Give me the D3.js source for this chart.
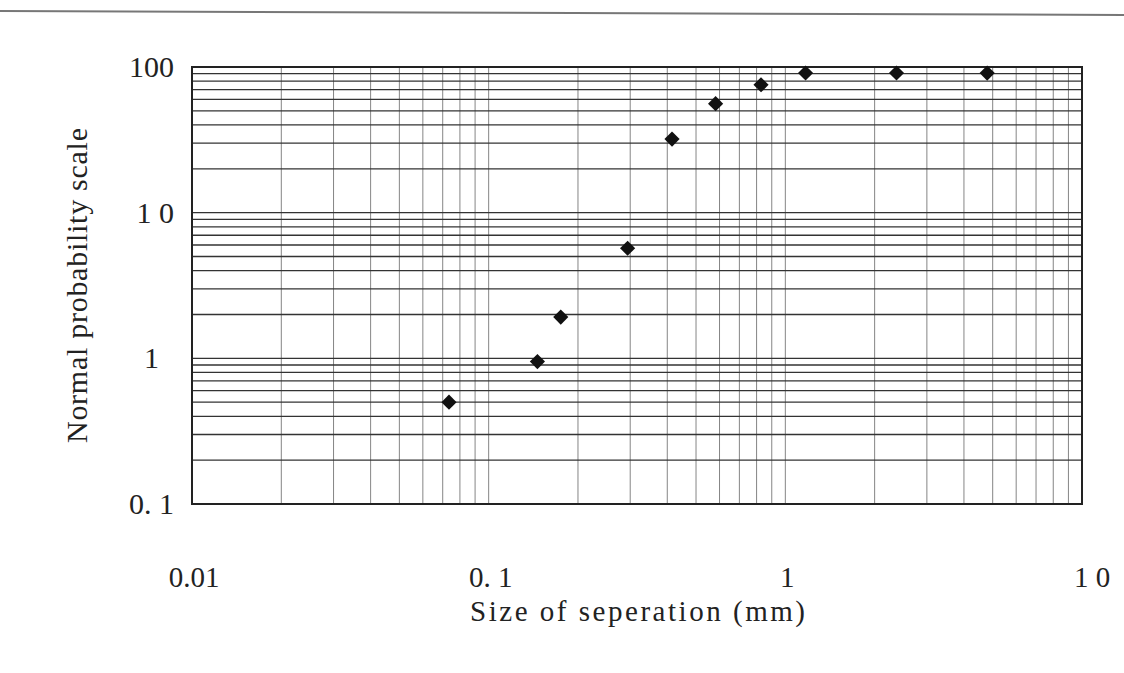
<!DOCTYPE html>
<html>
<head>
<meta charset="utf-8">
<script src="https://cdn.jsdelivr.net/npm/d3@7"></script>
<style>
  body { margin: 0; background: #fff; }
  svg text { font-family: "Liberation Serif", "Times New Roman", serif; fill: #222; }
</style>
</head>
<body>
<svg id="chart" width="1124" height="673"></svg>
<script>
// particle size (mm) vs cumulative percent
const sizes = [0.0735, 0.146, 0.175, 0.294, 0.415, 0.582, 0.828, 1.17, 2.37, 4.79];
const percents = [0.5, 0.95, 1.92, 5.7, 32, 56, 75.5, 91, 91, 90.8];
const xTickValues = [0.01, 0.1, 1, 10];
const xTickLabels = ['0.01', '0. 1', '1', '1 0'];
const yTickValues = [0.1, 1, 10, 100];
const yTickLabels = ['0. 1', '1  ', '1 0', '100'];

const svg = d3.select('#chart');
const plotLeft = 192;
const plotRight = 1082;
const plotTop = 67;
const plotBottom = 504;

const x = d3.scaleLog().domain([0.01, 10]).range([plotLeft, plotRight]);
const y = d3.scaleLog().domain([0.1, 100]).range([plotBottom, plotTop]);

// scan edge line at the top of the page
svg.append('line')
  .attr('x1', 0).attr('y1', 11).attr('x2', 1124).attr('y2', 15)
  .attr('stroke', '#777').attr('stroke-width', 2);

// vertical grid (lighter)
svg.append('g').selectAll('line')
  .data(x.ticks())
  .join('line')
  .attr('x1', (d) => x(d)).attr('x2', (d) => x(d))
  .attr('y1', plotTop).attr('y2', plotBottom)
  .attr('stroke', '#777')
  .attr('stroke-width', 0.9);

// horizontal grid (darker)
svg.append('g').selectAll('line')
  .data(y.ticks())
  .join('line')
  .attr('x1', plotLeft).attr('x2', plotRight)
  .attr('y1', (d) => y(d)).attr('y2', (d) => y(d))
  .attr('stroke', '#333')
  .attr('stroke-width', 1.3);

// plot frame
svg.append('rect')
  .attr('x', plotLeft).attr('y', plotTop)
  .attr('width', plotRight - plotLeft).attr('height', plotBottom - plotTop)
  .attr('fill', 'none')
  .attr('stroke', '#222')
  .attr('stroke-width', 2);

// y tick labels
svg.append('g').selectAll('text')
  .data(yTickValues)
  .join('text')
  .attr('x', 174)
  .attr('y', (d) => y(d) + 10)
  .attr('text-anchor', 'end')
  .attr('font-size', 30)
  .style('white-space', 'pre')
  .text((d, i) => yTickLabels[i]);

// x tick labels
svg.append('g').selectAll('text')
  .data(xTickValues)
  .join('text')
  .attr('x', (d, i) => x(d) + (i === 3 ? 10 : 2))
  .attr('y', 587)
  .attr('text-anchor', 'middle')
  .attr('font-size', 29)
  .text((d, i) => xTickLabels[i]);

// axis titles
svg.append('text')
  .attr('x', 470)
  .attr('y', 621)
  .attr('font-size', 29)
  .attr('textLength', 335)
  .attr('lengthAdjust', 'spacing')
  .text('Size of seperation (mm)');

svg.append('text')
  .attr('transform', 'translate(87,443) rotate(-90)')
  .attr('font-size', 30)
  .attr('textLength', 315)
  .attr('lengthAdjust', 'spacing')
  .text('Normal probability scale');

// diamond markers
const diamond = d3.symbol().type(d3.symbolSquare).size(115);
svg.append('g').selectAll('path')
  .data(sizes)
  .join('path')
  .attr('d', diamond)
  .attr('transform', (d, i) => `translate(${x(d)},${y(percents[i])}) rotate(45)`)
  .attr('fill', '#111');
</script>
</body>
</html>
